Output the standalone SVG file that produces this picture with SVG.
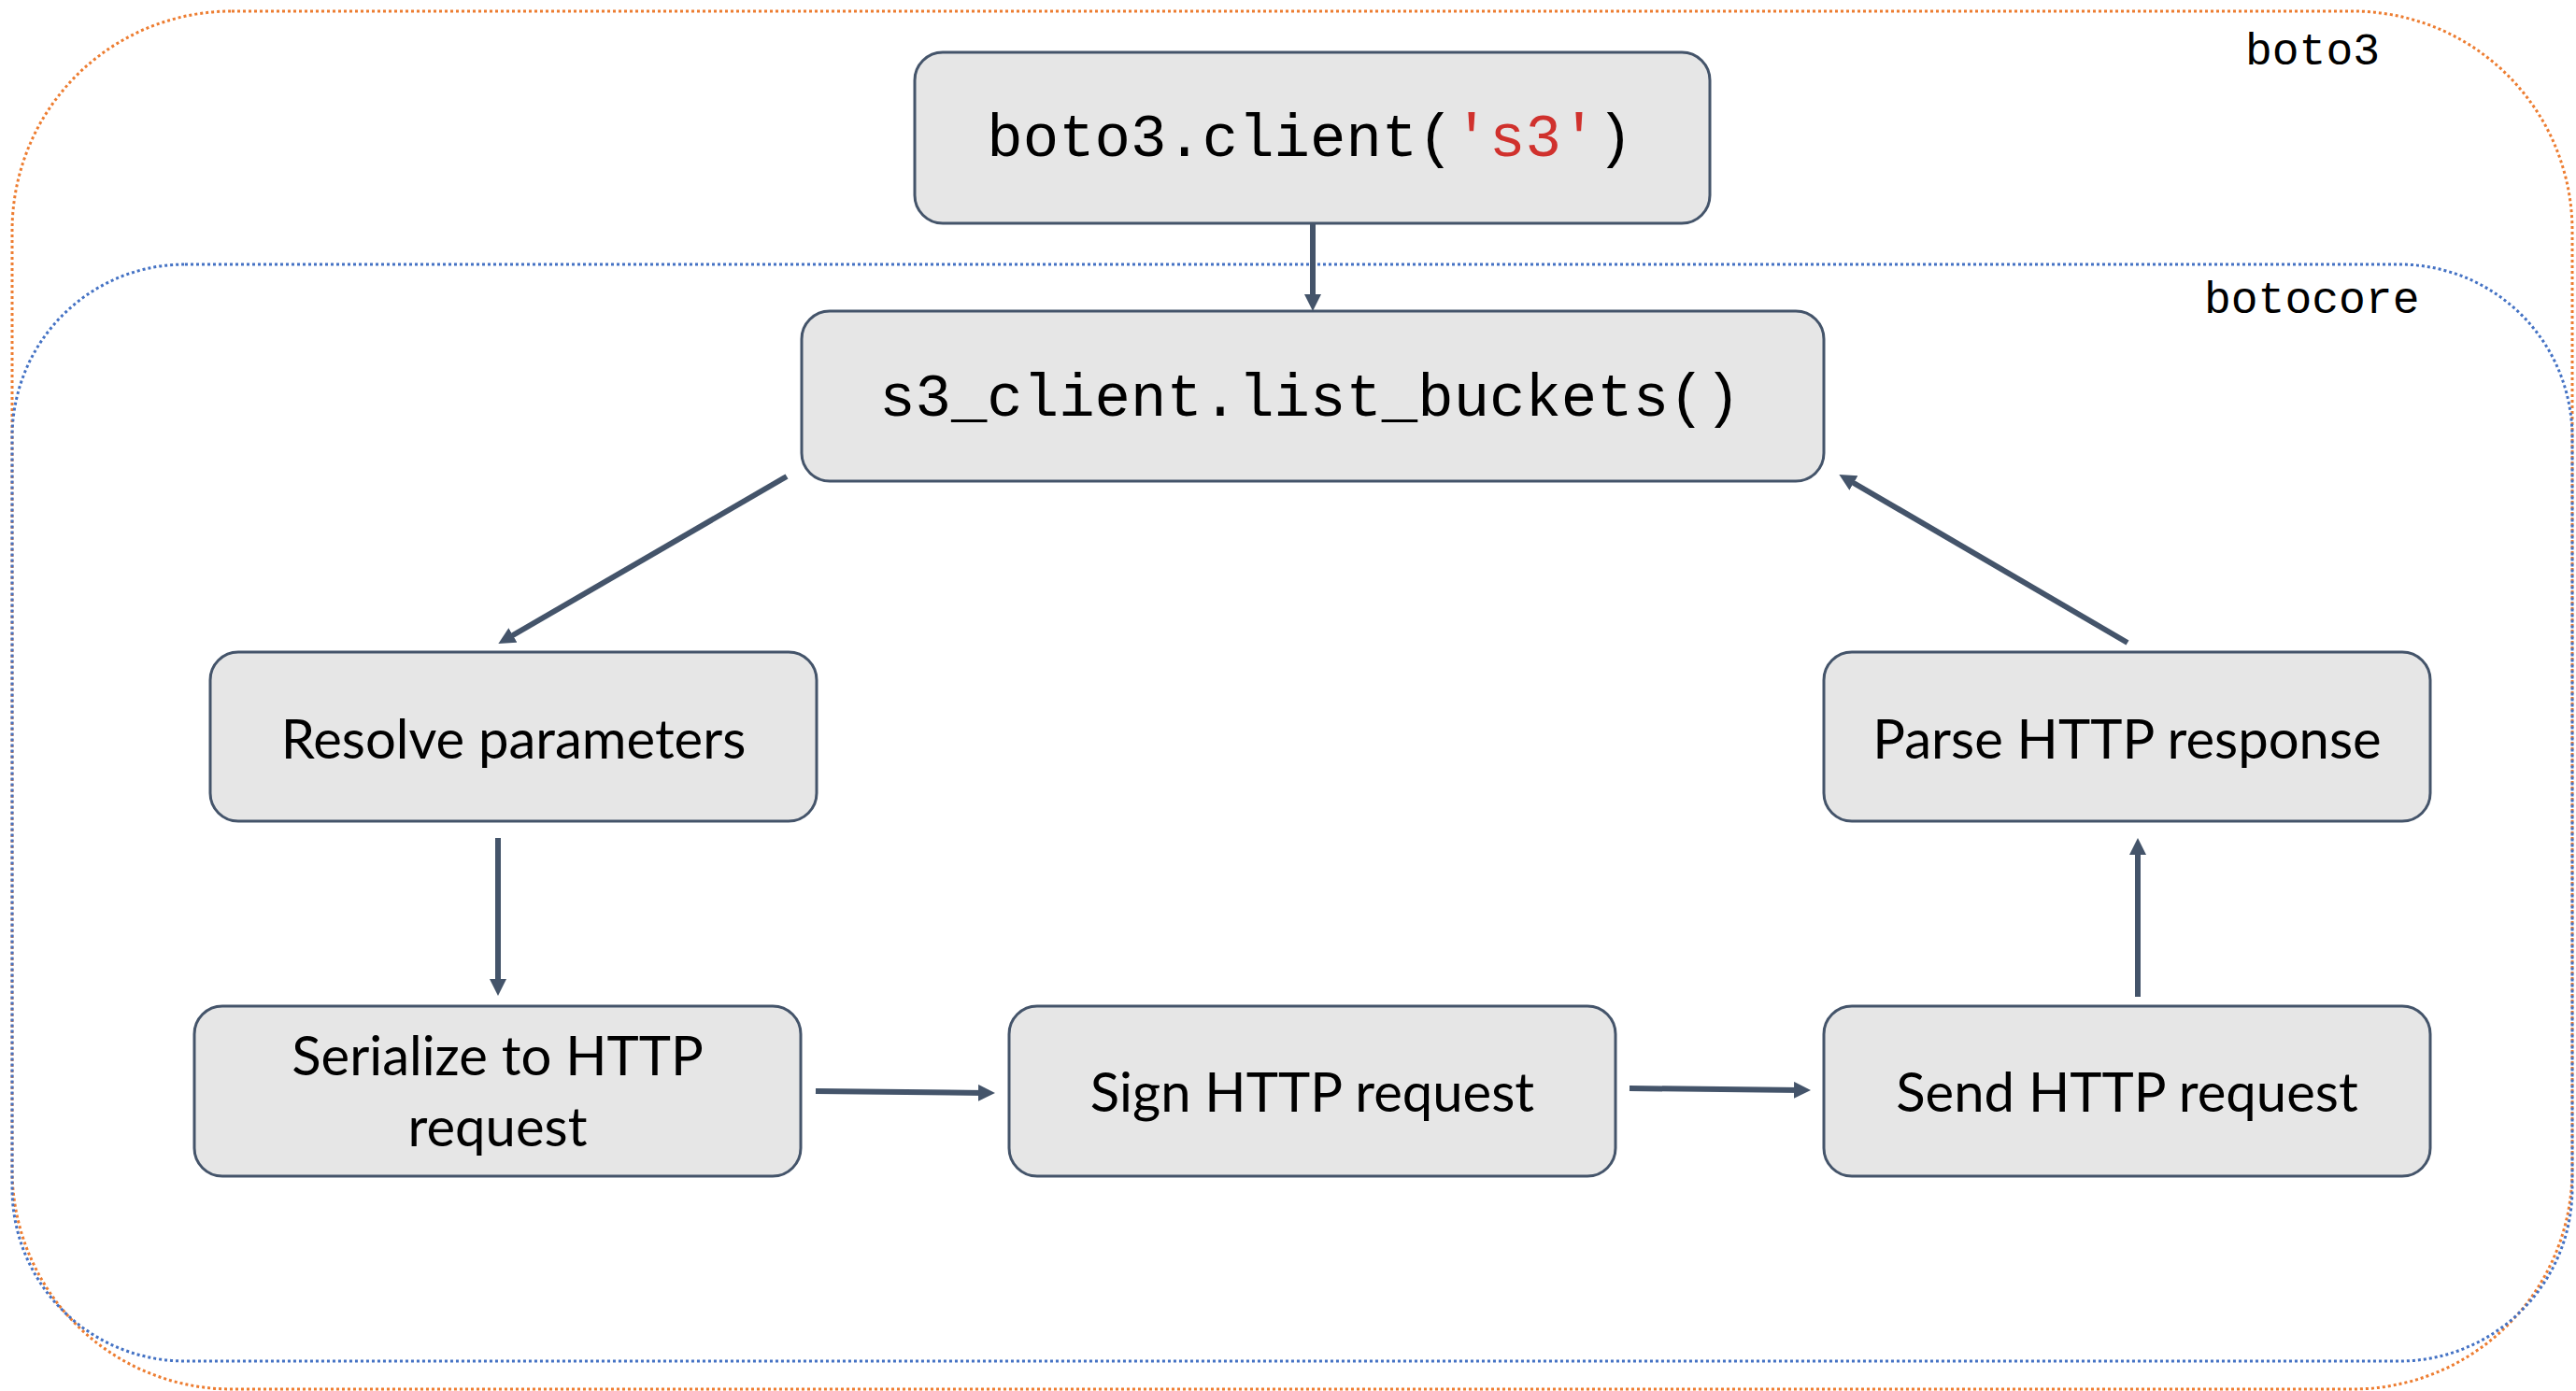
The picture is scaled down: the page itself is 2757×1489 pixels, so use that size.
<svg xmlns="http://www.w3.org/2000/svg" width="2757" height="1489" viewBox="0 0 2757 1489">
  <style>
    .scope { fill: none; stroke-width: 3; stroke-dasharray: 3 3; }
    .boto3 { stroke: #ED7D31; }
    .botocore { stroke: #4472C4; }
    .scope-label { font-family: "Courier New", "Liberation Mono", monospace; font-size: 48px; fill: #000; }
    .box { fill: #E6E6E6; stroke: #44546A; stroke-width: 3; }
    .code { font-family: "Courier New", "Liberation Mono", monospace; font-size: 64px; fill: #000; text-anchor: middle; }
    .str { fill: #D0312D; }
    .step { font-family: Lato, "Open Sans", sans-serif; font-size: 58px; fill: #000; text-anchor: middle; }
    .flow { fill: none; stroke: #44546A; stroke-width: 6; marker-end: url(#arrow); }
  </style>
  <defs>
    <marker id="arrow" markerUnits="userSpaceOnUse" markerWidth="20" markerHeight="20" refX="8" refY="9" orient="auto">
      <path d="M0,0 L18,9 L0,18 Z" fill="#44546A"/>
    </marker>
  </defs>

  <rect width="2757" height="1489" fill="#FFFFFF"/>

  <!-- package scopes -->
  <g id="scope-boto3">
    <rect class="scope boto3" x="13" y="12" width="2740" height="1475" rx="235" ry="235"/>
    <text class="scope-label" x="2403" y="69">boto3</text>
  </g>
  <g id="scope-botocore">
    <rect class="scope botocore" x="13" y="283" width="2740" height="1174" rx="185" ry="185"/>
    <text class="scope-label" x="2359" y="335">botocore</text>
  </g>

  <!-- connectors -->
  <g id="connectors">
    <line class="flow" x1="1405" y1="239" x2="1405" y2="323"/>
    <line class="flow" x1="842" y1="510" x2="542" y2="684"/>
    <line class="flow" x1="533" y1="897" x2="533" y2="1056"/>
    <line class="flow" x1="873" y1="1168" x2="1055" y2="1170"/>
    <line class="flow" x1="1744" y1="1165" x2="1928" y2="1167"/>
    <line class="flow" x1="2288" y1="1067" x2="2288" y2="907"/>
    <line class="flow" x1="2277" y1="688" x2="1977" y2="513"/>
  </g>

  <!-- nodes -->
  <g id="node-client">
    <rect class="box" x="979" y="56" width="851" height="183" rx="30" ry="30"/>
    <text class="code" x="1402" y="167">boto3.client(<tspan class="str">'s3'</tspan>)</text>
  </g>
  <g id="node-list-buckets">
    <rect class="box" x="858" y="333" width="1094" height="182" rx="30" ry="30"/>
    <text class="code" x="1402" y="445">s3_client.list_buckets()</text>
  </g>
  <g id="node-resolve">
    <rect class="box" x="225" y="698" width="649" height="181" rx="30" ry="30"/>
    <text class="step" x="549.5" y="812">Resolve parameters</text>
  </g>
  <g id="node-serialize">
    <rect class="box" x="208" y="1077" width="649" height="182" rx="30" ry="30"/>
    <text class="step" x="532.5" y="1151">Serialize to HTTP</text>
    <text class="step" x="532.5" y="1227">request</text>
  </g>
  <g id="node-sign">
    <rect class="box" x="1080" y="1077" width="649" height="182" rx="30" ry="30"/>
    <text class="step" x="1404.5" y="1190">Sign HTTP request</text>
  </g>
  <g id="node-send">
    <rect class="box" x="1952" y="1077" width="649" height="182" rx="30" ry="30"/>
    <text class="step" x="2276.5" y="1190">Send HTTP request</text>
  </g>
  <g id="node-parse">
    <rect class="box" x="1952" y="698" width="649" height="181" rx="30" ry="30"/>
    <text class="step" x="2276.5" y="812">Parse HTTP response</text>
  </g>
</svg>
